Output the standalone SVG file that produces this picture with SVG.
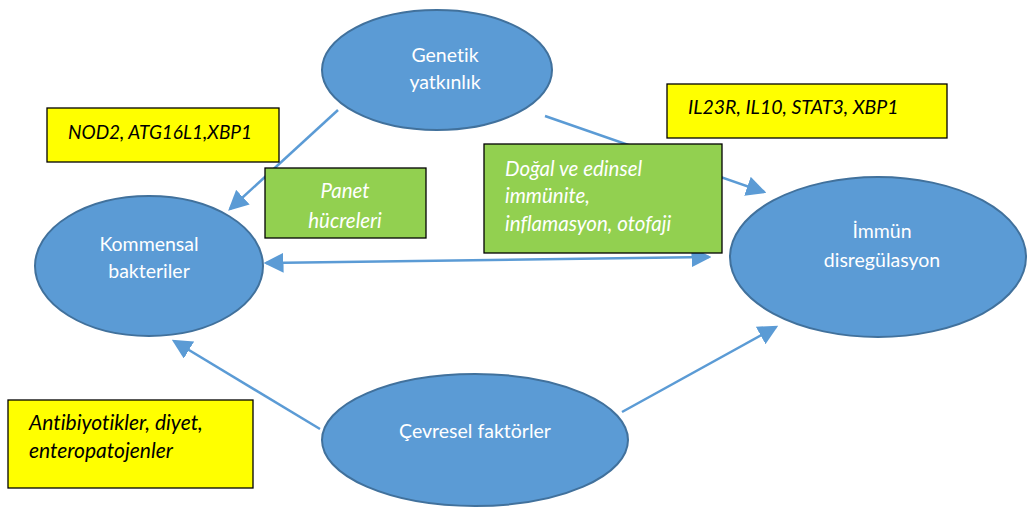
<svg xmlns="http://www.w3.org/2000/svg" width="1027" height="510" viewBox="0 0 1027 510">
<style>
text{font-variant-ligatures:none;font-family:"Lato","Liberation Sans",sans-serif}
.ell{fill:#5B9BD5;stroke:#41719C;stroke-width:2}
.nt{fill:#fff;font-size:19.5px;text-anchor:middle}
.yb{fill:#FFFF00;stroke:#000;stroke-width:1.3}
.gb{fill:#92D050;stroke:#000;stroke-width:1.3}
.bt{fill:#000;font-size:19px;font-style:italic}
.gt{fill:#fff;font-size:20.5px;font-style:italic}
.ln{stroke:#5B9BD5;stroke-width:2.5;fill:none}
</style>
<defs>
<marker id="ah" markerWidth="8" markerHeight="8" refX="7" refY="4" orient="auto" markerUnits="strokeWidth" viewBox="0 0 8 8">
<path d="M0,0 L8,4 L0,8 Z" fill="#5B9BD5"/>
</marker>
<marker id="ahs" markerWidth="8" markerHeight="8" refX="1" refY="4" orient="auto" markerUnits="strokeWidth" viewBox="0 0 8 8">
<path d="M8,0 L0,4 L8,8 Z" fill="#5B9BD5"/>
</marker>
</defs>
<g id="connectors">
<line class="ln" x1="338" y1="110" x2="230" y2="209" marker-end="url(#ah)"/>
<line class="ln" x1="545" y1="116" x2="764" y2="192" marker-end="url(#ah)"/>
<line class="ln" x1="266" y1="263" x2="709" y2="257" marker-start="url(#ahs)" marker-end="url(#ah)"/>
<line class="ln" x1="320" y1="429" x2="174" y2="341" marker-end="url(#ah)"/>
<line class="ln" x1="622" y1="412" x2="776" y2="327" marker-end="url(#ah)"/>
</g>
<g id="genetik">
<ellipse class="ell" cx="437" cy="70" rx="115" ry="60"/>
<text class="nt" x="445" y="62">Genetik</text>
<text class="nt" x="445" y="89">yatkınlık</text>
</g>
<g id="kommensal">
<ellipse class="ell" cx="149" cy="266" rx="114" ry="70"/>
<text class="nt" x="149" y="251">Kommensal</text>
<text class="nt" x="149" y="278">bakteriler</text>
</g>
<g id="immun">
<ellipse class="ell" cx="878" cy="257" rx="148" ry="80"/>
<text class="nt" x="882" y="238">İmmün</text>
<text class="nt" x="882" y="267">disregülasyon</text>
</g>
<g id="cevresel">
<ellipse class="ell" cx="475" cy="440" rx="153" ry="66"/>
<text class="nt" x="475" y="438">Çevresel faktörler</text>
</g>
<g id="nod2">
<rect class="yb" x="47" y="108" width="232" height="54"/>
<text class="bt" x="68" y="139">NOD2, ATG16L1,XBP1</text>
</g>
<g id="panet">
<rect class="gb" x="265" y="168" width="161" height="70"/>
<text class="gt" x="345" y="198" text-anchor="middle">Panet</text>
<text class="gt" x="345" y="228" text-anchor="middle">hücreleri</text>
</g>
<g id="il23r">
<rect class="yb" x="667" y="84" width="280" height="54"/>
<text class="bt" x="688" y="114" style="font-size:19.5px">IL23R, IL10, STAT3, XBP1</text>
</g>
<g id="dogal">
<rect class="gb" x="484" y="144" width="238" height="109"/>
<text class="gt" x="505" y="176">Doğal ve edinsel</text>
<text class="gt" x="505" y="203">immünite,</text>
<text class="gt" x="505" y="231">inflamasyon, otofaji</text>
</g>
<g id="antibiyotik">
<rect class="yb" x="8" y="400" width="245" height="88"/>
<text class="bt" x="29" y="430" style="font-size:21px">Antibiyotikler, diyet,</text>
<text class="bt" x="29" y="458" style="font-size:21px">enteropatojenler</text>
</g>
</svg>
